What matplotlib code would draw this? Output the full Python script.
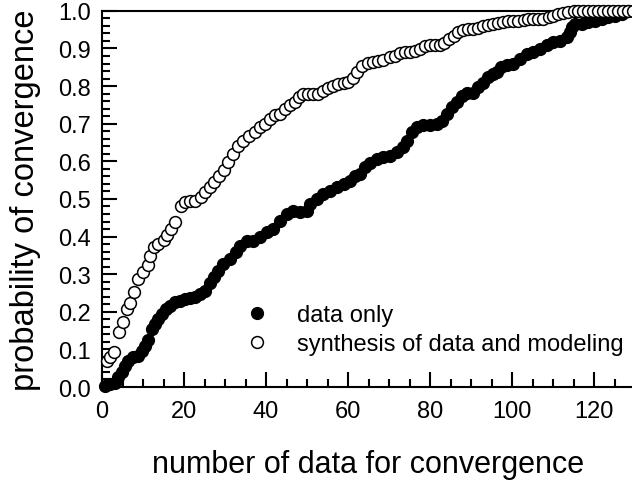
# -*- coding: utf-8 -*-
"""
Probability of convergence versus number of data (empirical CDFs).

Output:
    out.png
"""
from __future__ import annotations

import matplotlib

matplotlib.use("Agg")
import matplotlib.pyplot as plt
from matplotlib.ticker import MultipleLocator, FormatStrFormatter


OUT_FIGURE = "out.png"

# data only (filled circles)
DATA_X = [
    0.7, 2.0, 3.2, 4.0, 4.8, 5.6, 6.4, 7.6, 8.9, 9.7, 10.5, 11.3, 12.1, 12.9,
    13.7, 14.6, 15.5, 16.6, 17.8, 19.0, 20.2, 21.5, 22.7, 23.9, 25.1, 26.3,
    27.4, 28.4, 29.6, 31.2, 32.8, 33.7, 35.3, 36.9, 38.5, 40.2, 41.8, 43.4,
    45.0, 46.7, 48.3, 49.9, 50.7, 52.4, 54.0, 55.6, 57.2, 58.9, 60.5, 61.7,
    62.9, 64.1, 65.4, 67.0, 68.6, 70.2, 71.9, 73.5, 74.3, 75.5, 76.8, 78.4,
    80.0, 81.6, 82.9, 84.1, 85.3, 86.5, 87.7, 89.0, 90.6, 91.8, 93.0, 94.2,
    95.4, 96.3, 97.3, 98.7, 100.3, 102.0, 103.6, 105.2, 106.8, 108.5, 110.1,
    111.7, 113.3, 114.1, 114.6, 115.4, 117.0, 118.6, 120.2, 121.9, 123.5,
    125.1, 126.8, 128.4,
]
DATA_Y = [
    0.003, 0.008, 0.012, 0.026, 0.041, 0.057, 0.070, 0.079, 0.083, 0.097,
    0.110, 0.126, 0.154, 0.168, 0.181, 0.194, 0.207, 0.216, 0.225, 0.229,
    0.234, 0.237, 0.240, 0.247, 0.254, 0.276, 0.292, 0.309, 0.327, 0.340,
    0.358, 0.376, 0.389, 0.389, 0.398, 0.411, 0.420, 0.442, 0.460, 0.469,
    0.465, 0.469, 0.487, 0.500, 0.513, 0.522, 0.531, 0.540, 0.549, 0.562,
    0.566, 0.584, 0.595, 0.606, 0.611, 0.615, 0.624, 0.637, 0.655, 0.677,
    0.690, 0.697, 0.697, 0.700, 0.708, 0.726, 0.744, 0.759, 0.775, 0.781,
    0.783, 0.797, 0.808, 0.824, 0.832, 0.838, 0.852, 0.857, 0.859, 0.872,
    0.886, 0.890, 0.899, 0.908, 0.916, 0.921, 0.930, 0.943, 0.956, 0.965,
    0.965, 0.970, 0.974, 0.979, 0.983, 0.987, 0.992, 1.000,
]

# synthesis of data and modeling (open circles)
SYNTH_X = [
    1.1, 2.0, 3.0, 4.1, 5.2, 6.0, 6.8, 7.9, 8.9, 10.1, 11.1, 11.7, 12.8, 13.7,
    15.0, 15.8, 16.8, 17.8, 19.3, 20.2, 21.5, 22.7, 24.1, 25.1, 26.3, 27.4,
    28.6, 29.7, 30.8, 32.0, 33.2, 34.5, 35.9, 37.3, 38.5, 39.8, 41.0, 42.2,
    43.4, 44.6, 45.9, 47.1, 48.1, 49.1, 50.3, 51.5, 52.8, 54.0, 55.2, 56.4,
    57.6, 58.9, 60.1, 61.3, 62.3, 63.5, 64.8, 66.2, 67.4, 68.6, 70.2, 71.5,
    72.7, 73.9, 75.1, 76.3, 77.6, 78.8, 80.0, 81.2, 82.4, 83.5, 84.7, 85.9,
    86.9, 88.1, 89.3, 90.6, 91.8, 93.0, 94.2, 95.4, 96.7, 97.9, 99.1, 100.3,
    101.5, 102.8, 104.0, 105.2, 106.4, 107.6, 108.9, 110.1, 111.3, 112.5,
    113.7, 115.0, 116.2, 117.4, 118.6, 119.8, 121.0, 122.2, 123.4, 124.6,
    125.8, 127.0, 128.2, 129.4,
]
SYNTH_Y = [
    0.070, 0.079, 0.092, 0.147, 0.174, 0.207, 0.223, 0.252, 0.287, 0.305,
    0.325, 0.349, 0.372, 0.380, 0.392, 0.404, 0.420, 0.438, 0.482, 0.491,
    0.495, 0.495, 0.504, 0.518, 0.531, 0.545, 0.560, 0.578, 0.598, 0.620,
    0.640, 0.655, 0.667, 0.677, 0.690, 0.700, 0.713, 0.722, 0.726, 0.739,
    0.750, 0.758, 0.770, 0.779, 0.779, 0.779, 0.779, 0.788, 0.794, 0.801,
    0.806, 0.809, 0.812, 0.822, 0.838, 0.853, 0.862, 0.865, 0.868, 0.870,
    0.877, 0.881, 0.888, 0.892, 0.890, 0.894, 0.899, 0.906, 0.908, 0.908,
    0.908, 0.915, 0.924, 0.932, 0.945, 0.949, 0.951, 0.953, 0.955, 0.960,
    0.962, 0.964, 0.968, 0.971, 0.974, 0.974, 0.974, 0.976, 0.979, 0.979,
    0.979, 0.979, 0.983, 0.987, 0.992, 0.995, 0.998, 1.000, 1.000, 1.000,
    1.000, 1.000, 1.000, 1.000, 1.000, 1.000, 1.000, 1.000, 1.000, 1.000,
]

LABELS = ["data only", "synthesis of data and modeling"]
X_LABEL = "number of data for convergence"
Y_LABEL = "probability of convergence"


def plot_convergence() -> None:
    plt.rcParams["font.family"] = ["Liberation Sans", "DejaVu Sans"]

    fig = plt.figure(figsize=(6.32, 4.81), dpi=100)
    ax = fig.add_axes([0.1614, 0.1933, 0.8434, 0.782])

    ax.plot(DATA_X, DATA_Y, linestyle="none", marker="o", markersize=8.5,
            markerfacecolor="black", markeredgecolor="black", markeredgewidth=1.0,
            label=LABELS[0], clip_on=False, zorder=3)
    ax.plot(SYNTH_X, SYNTH_Y, linestyle="none", marker="o", markersize=8.5,
            markerfacecolor="white", markeredgecolor="black", markeredgewidth=1.1,
            label=LABELS[1], clip_on=False, zorder=4)

    ax.set_xlim(0, 130)
    ax.set_ylim(0, 1.0)
    ax.xaxis.set_major_locator(MultipleLocator(20))
    ax.xaxis.set_minor_locator(MultipleLocator(5))
    ax.yaxis.set_major_locator(MultipleLocator(0.1))
    ax.yaxis.set_minor_locator(MultipleLocator(0.02))
    ax.yaxis.set_major_formatter(FormatStrFormatter("%.1f"))

    ax.tick_params(which="both", direction="in", width=1.5, labelsize=17,
                   top=False, right=False)
    ax.tick_params(which="major", length=11)
    ax.tick_params(which="minor", length=6)
    ax.tick_params(axis="y", which="major", pad=8)
    ax.tick_params(axis="x", which="major", pad=9)
    for side in ["left", "bottom", "top"]:
        ax.spines[side].set_linewidth(1.5)
    ax.spines["right"].set_visible(False)

    ax.set_xlabel(X_LABEL, fontsize=22, labelpad=20)
    ax.set_ylabel(Y_LABEL, fontsize=23.5, labelpad=12)

    ax.legend(loc="upper left", bbox_to_anchor=(0.255, 0.245), frameon=False,
              fontsize=17, handlelength=0.8, handletextpad=1.3,
              labelspacing=0.3, borderaxespad=0)

    fig.savefig(OUT_FIGURE, dpi=100)


def main() -> None:
    plot_convergence()


if __name__ == "__main__":
    main()
